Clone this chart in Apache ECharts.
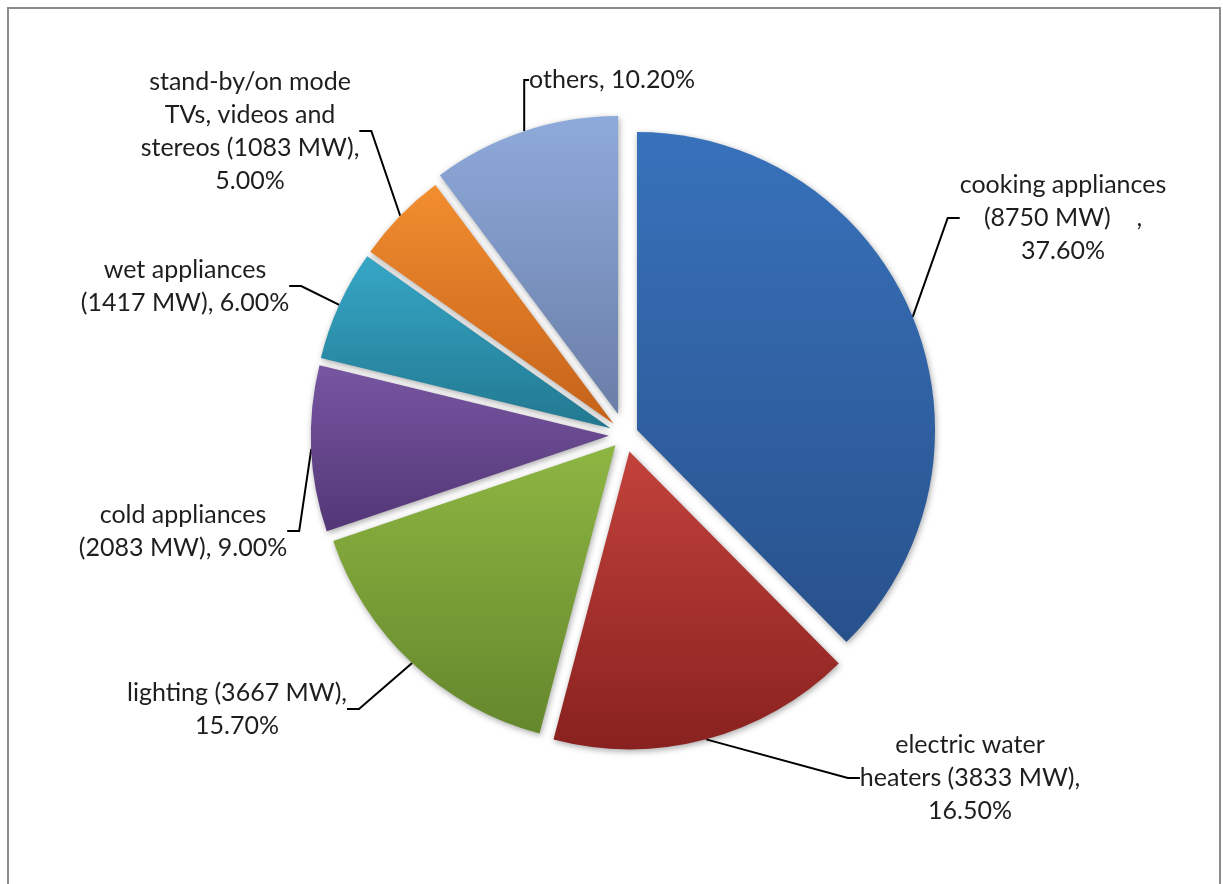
<!DOCTYPE html>
<html>
<head>
<meta charset="utf-8">
<script src="https://cdn.jsdelivr.net/npm/echarts@6/dist/echarts.min.js"></script>
<style>
html,body{margin:0;padding:0;background:#fff;}
#chart{width:1223px;height:884px;}
</style>
</head>
<body>
<div id="chart"></div>
<script>
// ---- data ----
const categories = ['cooking appliances', 'electric water heaters', 'lighting', 'cold appliances', 'wet appliances', 'stand-by/on mode TVs, videos and stereos', 'others'];
const shares = [37.6, 16.5, 15.7, 9.0, 6.0, 5.0, 10.2];
const labelTexts = [
  'cooking appliances\n(8750 MW)    ,\n37.60%',
  'electric water\nheaters (3833 MW),\n16.50%',
  'lighting (3667 MW),\n15.70%',
  'cold appliances\n(2083 MW), 9.00%',
  'wet appliances\n(1417 MW), 6.00%',
  'stand-by/on mode\nTVs, videos and\nstereos (1083 MW),\n5.00%',
  'others, 10.20%'
];

// ---- styles / layout ----
const gradients = [
  ['#3872bb', '#28518c'],
  ['#c3423c', '#88211f'],
  ['#8eb642', '#64872c'],
  ['#7856a2', '#523676'],
  ['#36a7c7', '#227890'],
  ['#f28d2f', '#c5621a'],
  ['#8eaadb', '#6a7ea7']
];
const explode = [13, 17, 14, 16, 16, 16, 22];
const labelPos = [
  [1063, 218], [970, 778], [237, 709], [183, 531], [185, 286], [250, 131], [612, 80]
];
const CX = 625, CY = 435, R = 298;

const chart = echarts.init(document.getElementById('chart'));
const total = shares.reduce((a, b) => a + b, 0);

const series = [];
let cum = 0;
shares.forEach((s, i) => {
  const mid = (cum + s / 2) / total * Math.PI * 2;
  cum += s;
  const center = [CX + explode[i] * Math.sin(mid), CY - explode[i] * Math.cos(mid)];
  const data = categories.map((c, j) => {
    if (j === i) {
      return {
        name: c, value: shares[j],
        itemStyle: {
          color: {
            type: 'linear', x: 0, y: 0, x2: 0, y2: 1,
            colorStops: [{offset: 0, color: gradients[j][0]}, {offset: 1, color: gradients[j][1]}]
          },
          shadowBlur: 6,
          shadowColor: 'rgba(0,0,0,0.35)',
          shadowOffsetX: 1,
          shadowOffsetY: 2
        }
      };
    }
    return {
      name: c, value: shares[j],
      itemStyle: {color: 'rgba(0,0,0,0)', shadowColor: 'rgba(0,0,0,0)'},
      label: {show: false},
      labelLine: {show: false}
    };
  });
  series.push({
    type: 'pie',
    center: center,
    radius: [0, R],
    startAngle: 90,
    clockwise: true,
    selectedMode: false,
    avoidLabelOverlap: false,
    silent: true,
    data: data,
    emphasis: {disabled: true},
    label: {
      show: true,
      position: 'outside',
      formatter: (p) => labelTexts[p.dataIndex],
      fontFamily: 'Lato',
      fontSize: 25,
      lineHeight: 33,
      color: '#1e1e1e',
      align: 'center'
    },
    labelLine: {
      show: true,
      length: 20,
      length2: 12,
      lineStyle: {color: '#000', width: 2}
    },
    labelLayout: (params) => {
      const p = labelPos[params.dataIndex];
      return {x: p[0], y: p[1], align: 'center', verticalAlign: 'middle'};
    }
  });
});

chart.setOption({
  animation: false,
  backgroundColor: '#fff',
  graphic: [{
    type: 'rect',
    shape: {x: 8, y: 8, width: 1212, height: 900},
    style: {fill: 'none', stroke: '#8c8c8c', lineWidth: 2},
    silent: true
  }],
  series: series
});
</script>
</body>
</html>
